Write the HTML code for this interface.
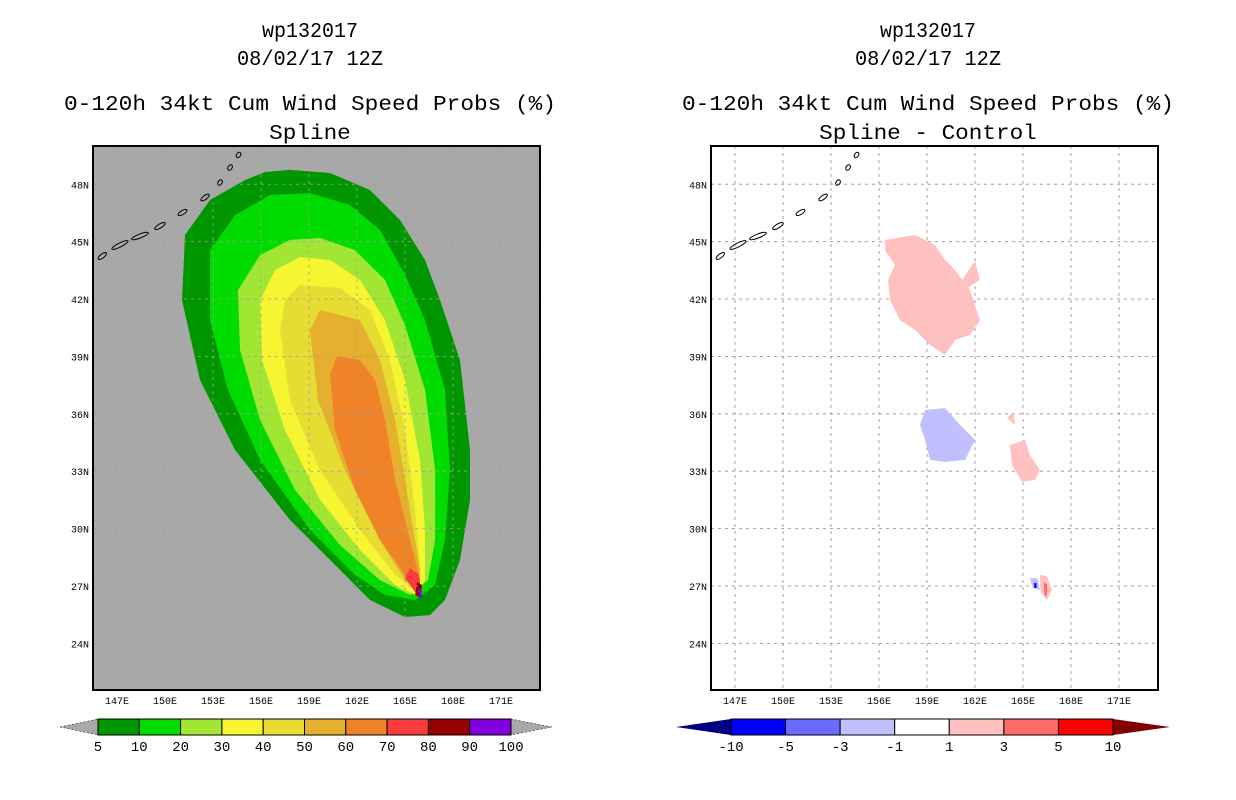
<!DOCTYPE html>
<html><head><meta charset="utf-8"><style>
html,body{margin:0;padding:0;background:#fff;width:1236px;height:800px;overflow:hidden}
svg text{font-family:"Liberation Mono",monospace}
</style></head><body>
<svg id="s" width="1236" height="800" xmlns="http://www.w3.org/2000/svg"></svg>
<script>
const latTicks=[24,27,30,33,36,39,42,45,48];
const lonTicks=[147,150,153,156,159,162,165,168,171];
const probLevels=["5","10","20","30","40","50","60","70","80","90","100"];
const probColors=["#009600","#00dc00","#a0e632","#f5f532","#e6dc32","#e6af2d","#f08228","#fa3c3c","#960000","#8200dc"];
const diffLevels=["-10","-5","-3","-1","1","3","5","10"];
const diffColors=["#0000ff","#6b6bff","#c0c0ff","#ffffff","#ffc0c0","#ff6b6b","#ff0000"];
const c5=[[156.25,48.64],[155.0,48.22],[152.81,47.18],[151.25,45.35],[151.06,41.95],[152.19,37.77],[154.38,34.11],[157.81,30.45],[160.94,27.84],[162.81,26.27],[165.0,25.38],[166.56,25.48],[167.5,26.27],[168.44,28.36],[169.06,31.5],[169.06,34.11],[168.44,38.81],[167.19,41.95],[166.25,44.04],[164.69,46.13],[162.81,47.7],[160.31,48.59],[157.81,48.75]];
const c10=[[156.56,47.44],[154.38,46.39],[152.81,44.56],[152.81,40.9],[153.94,37.25],[155.94,33.59],[159.06,29.93],[161.88,27.58],[163.75,26.53],[165.63,26.27],[166.88,27.05],[167.5,29.4],[167.81,33.06],[167.5,37.25],[166.25,40.9],[165.0,43.26],[163.44,45.61],[161.56,46.92],[159.06,47.54]];
const c20=[[157.81,45.09],[155.94,44.3],[154.56,42.47],[154.69,39.34],[155.94,35.68],[158.13,32.02],[160.94,29.14],[163.44,27.31],[165.31,26.53],[166.44,27.31],[166.88,29.4],[166.88,33.06],[166.25,37.25],[165.0,40.64],[163.75,43.0],[161.88,44.56],[159.69,45.19]];
const c30=[[158.44,44.2],[156.88,43.52],[155.94,41.95],[156.06,38.81],[157.5,35.15],[159.69,31.5],[162.19,28.88],[164.38,27.05],[165.63,26.53],[166.25,27.31],[166.25,29.93],[165.94,33.59],[165.0,37.77],[163.75,40.9],[162.19,43.0],[160.31,44.04]];
const c40=[[158.44,42.73],[157.5,41.95],[157.19,40.38],[157.81,36.72],[159.69,33.06],[162.19,29.93],[164.38,27.58],[165.63,26.79],[165.94,27.84],[165.63,30.97],[165.0,35.15],[164.06,38.81],[162.81,41.43],[160.94,42.58]];
const c50=[[159.69,41.43],[159.06,40.38],[159.56,36.72],[161.25,33.06],[163.44,29.4],[165.0,27.31],[165.81,26.79],[165.94,27.84],[165.31,30.97],[164.38,35.68],[163.44,38.81],[162.19,40.9]];
const c60=[[160.75,39.02],[160.31,38.03],[160.63,35.15],[161.88,32.02],[163.44,29.4],[165.0,27.58],[165.81,26.79],[165.94,27.31],[165.31,29.4],[164.38,32.54],[163.75,35.68],[163.13,37.77],[162.19,38.81]];
const c70=[[165.31,27.94],[165.0,27.42],[165.63,26.69],[166.0,26.69],[165.88,27.58]];
const c80=[[165.75,27.21],[165.63,26.53],[166.0,26.37],[166.06,27.05]];
const c90=[[165.81,26.9],[165.88,26.37],[166.06,26.43],[166.0,26.84]];
const dPos1=[[156.38,45.09],[158.25,45.35],[159.5,44.83],[160.13,44.04],[160.75,43.52],[161.69,42.47],[162.31,40.9],[161.69,40.12],[160.75,39.86],[160.13,39.08],[159.19,39.6],[158.25,40.38],[157.31,40.9],[156.69,41.95],[156.56,43.0],[157.0,43.78],[156.38,44.56]];
const dPos2=[[161.2,43.0],[162.0,44.0],[162.3,43.0],[161.6,42.6]];
const dPos3=[[164.19,34.37],[165.13,34.63],[165.44,33.85],[166.06,33.06],[165.75,32.54],[164.94,32.44],[164.31,33.33]];
const dPos4=[[164.0,35.8],[164.4,36.1],[164.5,35.4]];
const dPos5=[[166.06,27.58],[166.5,27.5],[166.81,26.8],[166.5,26.27],[166.1,26.7]];
const dRed5=[[166.3,27.2],[166.5,27.1],[166.5,26.5],[166.35,26.5]];
const dNeg1=[[158.88,36.2],[160.13,36.3],[161.06,35.42],[162.0,34.63],[161.38,33.59],[160.13,33.48],[159.19,33.59],[158.88,34.63],[158.56,35.42]];
const dNeg2=[[165.44,27.42],[165.9,27.4],[166.06,26.79],[165.6,26.9]];
const dNeg3=[[165.7,27.15],[165.85,27.15],[165.85,26.9],[165.7,26.9]];
const coast=[[145.6,43.94],[146.56,44.56],[147.81,45.09],[149.06,45.5],[150.31,46.13],[151.88,46.92],[153.13,47.7],[153.75,48.48],[154.38,49.27],[154.81,49.79]];
const coastSize=[5,9,9,6,5,5,3,3,3];

const S=document.getElementById('s');
const NS='http://www.w3.org/2000/svg';
function mk(t,a,p){const e=document.createElementNS(NS,t);for(const k in a)e.setAttribute(k,a[k]);(p||S).appendChild(e);return e;}
const X0=93,Y0=146,W=447,H=544;
function xs(lon,off){return 117+(lon-147)*16+off;}
function ys(lat){return 586-(lat-27)*19.13;}
function pts(arr,off){return arr.map(p=>xs(p[0],off).toFixed(1)+','+ys(p[1]).toFixed(1)).join(' ');}

function titles(cx,sub,off){
  const lines=[["wp132017",30,96],["08/02/17 12Z",58,146],["0-120h 34kt Cum Wind Speed Probs (%)",103,492],[sub,132,sub.length*13.6]];
  lines.forEach((l,i)=>{const t=mk('text',{x:cx,y:l[1]+7,'text-anchor':'middle','font-size':21,textLength:l[2],lengthAdjust:'spacingAndGlyphs',fill:'#000'});
  
  
  t.textContent=l[0];});
}
function panel(off,bg,name){
  const g=mk('g',{});
  
  
  const cp=mk('clipPath',{id:'cp'+off},g);mk('rect',{x:X0+off,y:Y0,width:W,height:H},cp);
  mk('rect',{x:X0+off,y:Y0,width:W,height:H,fill:bg},g);
  const inner=mk('g',{'clip-path':'url(#cp'+off+')'},g);
  return [g,inner];
}
function grid(g,inner,off){
  lonTicks.forEach(l=>{const x=xs(l,off);mk('line',{x1:x,x2:x,y1:Y0,y2:Y0+H,stroke:'#a0a0a0','stroke-width':1,'stroke-dasharray':'3,4'},inner);
    const t=mk('text',{x:x,y:704,'text-anchor':'middle','font-size':10,fill:'#000'},g);
    
    
    t.textContent=l+'E';});
  latTicks.forEach(l=>{const y=ys(l);mk('line',{x1:X0+off,x2:X0+W+off,y1:y,y2:y,stroke:'#a0a0a0','stroke-width':1,'stroke-dasharray':'3,4'},inner);
    const t=mk('text',{x:X0+off-4,y:y+4,'text-anchor':'end','font-size':10,fill:'#000'},g);
    
    
    t.textContent=l+'N';});
}
function coastline(inner,off){
  const cg=mk('g',{},inner);
  
  
  for(let i=0;i<coast.length-1;i++){
    const a=coast[i],b=coast[i+1];
    const x1=xs(a[0],off),y1=ys(a[1]),x2=xs(b[0],off),y2=ys(b[1]);
    const cx=(x1+x2)/2,cy=(y1+y2)/2,ang=Math.atan2(y2-y1,x2-x1)*180/Math.PI;
    mk('ellipse',{cx:cx,cy:cy,rx:coastSize[i],ry:2,transform:`rotate(${ang} ${cx} ${cy})`,fill:'none',stroke:'#000','stroke-width':1},cg);
  }
}
function frame(g,off){mk('rect',{x:X0+off,y:Y0,width:W,height:H,fill:'none',stroke:'#000','stroke-width':2},g);}

// Left panel
titles(310,"Spline",0);
let [gL,iL]=panel(0,'#a8a8a8','probability-map');
const conts=[c5,c10,c20,c30,c40,c50,c60,c70,c80,c90];
grid(gL,iL,0);
conts.forEach((c,i)=>{const p=mk('polygon',{points:pts(c,0),fill:probColors[i]},iL);
  
  });
lonTicks.forEach(l=>{const x=xs(l,0);mk('line',{x1:x,x2:x,y1:Y0,y2:Y0+H,stroke:'#a0a0a0','stroke-width':1,'stroke-dasharray':'3,4','stroke-opacity':0.8},iL);});
latTicks.forEach(l=>{const y=ys(l);mk('line',{x1:X0,x2:X0+W,y1:y,y2:y,stroke:'#a0a0a0','stroke-width':1,'stroke-dasharray':'3,4','stroke-opacity':0.8},iL);});
coastline(iL,0);
frame(gL,0);

// Right panel
const OFF=618;
titles(928,"Spline - Control",OFF);
let [gR,iR]=panel(OFF,'#ffffff','difference-map');
grid(gR,iR,OFF);
[[dPos1,'#ffc0c0'],[dPos2,'#ffc0c0'],[dPos3,'#ffc0c0'],[dPos4,'#ffc0c0'],[dPos5,'#ffc0c0'],[dRed5,'#ff6b6b'],[dNeg1,'#c0c0ff'],[dNeg2,'#c0c0ff'],[dNeg3,'#0000ff']].forEach(d=>{
  const p=mk('polygon',{points:pts(d[0],OFF),fill:d[1]},iR);
  
  });
coastline(iR,OFF);
frame(gR,OFF);

// Left colorbar
(function(){
  const g=mk('g',{});
  
  
  const x0=98,x1=511,y0=719,y1=735,bw=(x1-x0)/probColors.length;
  mk('polygon',{points:`60,727 ${x0},${y0} ${x0},${y1}`,fill:'#a8a8a8',stroke:'#000','stroke-width':0.5,'stroke-dasharray':'2,2'},g);
  mk('polygon',{points:`552,727 ${x1},${y0} ${x1},${y1}`,fill:'#a8a8a8',stroke:'#000','stroke-width':0.5,'stroke-dasharray':'2,2'},g);
  probColors.forEach((c,i)=>mk('rect',{x:x0+i*bw,y:y0,width:bw,height:y1-y0,fill:c,stroke:'#000','stroke-width':1},g));
  probLevels.forEach((l,i)=>{const t=mk('text',{x:x0+i*bw,y:751,'text-anchor':'middle','font-size':14,fill:'#000'},g);
    
    
    t.textContent=l;});
})();
// Right colorbar
(function(){
  const g=mk('g',{});
  
  
  const x0=731,x1=1113,y0=719,y1=735,bw=(x1-x0)/diffColors.length;
  mk('polygon',{points:`676,727 ${x0},${y0} ${x0},${y1}`,fill:'#000080'},g);
  mk('polygon',{points:`1170,727 ${x1},${y0} ${x1},${y1}`,fill:'#800000'},g);
  diffColors.forEach((c,i)=>mk('rect',{x:x0+i*bw,y:y0,width:bw,height:y1-y0,fill:c,stroke:'#000','stroke-width':1},g));
  diffLevels.forEach((l,i)=>{const t=mk('text',{x:x0+i*bw,y:751,'text-anchor':'middle','font-size':14,fill:'#000'},g);
    
    
    t.textContent=l;});
})();
</script>
</body></html>
